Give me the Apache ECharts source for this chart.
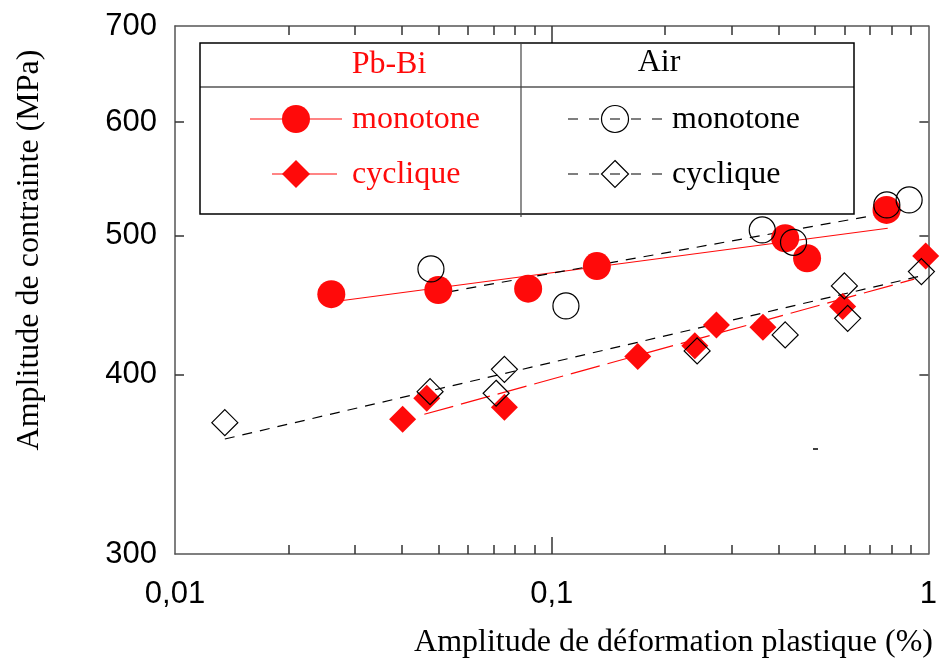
<!DOCTYPE html>
<html><head><meta charset="utf-8">
<script src="https://cdn.jsdelivr.net/npm/echarts@6/dist/echarts.min.js"></script>
<style>html,body{margin:0;padding:0;background:#fff}#c{width:940px;height:663px}</style>
</head><body><div id="c"></div>
<script>
// ---- tick values ----
const xTickLabels = [0.01, 0.1, 1];
const xMinorTicks = [0.02, 0.03, 0.04, 0.05, 0.06, 0.07, 0.08, 0.09, 0.2, 0.3, 0.4, 0.5, 0.6, 0.7, 0.8, 0.9];
const xMajorTicks = [0.1];
const yTickLabels = [300, 400, 500, 600, 700];
const yTicks = [400, 500, 600];

// ---- data: Pb-Bi (red) ----
const pbbiMonoX = [0.0260, 0.0500, 0.0866, 0.1318, 0.4167, 0.4764, 0.7743];
const pbbiMonoY = [455.2, 458.2, 459.2, 476.2, 497.9, 482.2, 521.1];
const pbbiCycX = [0.0402, 0.0466, 0.0749, 0.1692, 0.2399, 0.2738, 0.3637, 0.5923, 0.9838];
const pbbiCycY = [372.4, 385.2, 379.6, 411.8, 419.1, 433.3, 431.7, 446.2, 484.0];
// ---- data: Air (black) ----
const airMonoX = [0.0478, 0.1091, 0.3622, 0.4385, 0.7757, 0.8890];
const airMonoY = [474.0, 446.7, 504.6, 494.7, 525.3, 529.5];
const airCycX = [0.01356, 0.04755, 0.0712, 0.0749, 0.2433, 0.4167, 0.5984, 0.6106, 0.9583];
const airCycY = [370.4, 389.3, 388.3, 403.5, 415.6, 426.4, 461.3, 437.9, 472.0];
// ---- fitted trend lines (end points) ----
const pbbiMonoFitX = [0.0260, 0.780];
const pbbiMonoFitY = [449.5, 506.0];
const pbbiCycFitX = [0.0459, 0.9167];
const pbbiCycFitY = [375.4, 466.3];
const airMonoFitX = [0.0478, 0.8838];
const airMonoFitY = [454.6, 521.7];
const airCycFitX = [0.01356, 0.9583];
const airCycFitY = [360.8, 468.8];

const zip = (xs, ys) => xs.map((x, i) => [x, ys[i]]);
const RED = '#ff0a0a';
const axisLineStyle = {color: '#555', width: 1.5};
const tickStyle = {color: '#333', width: 1.5};

const xBase = {type: 'log', logBase: 10, min: 0.01, max: 1, gridIndex: 0,
  splitLine: {show: false}, minorTick: {show: false}, minorSplitLine: {show: false},
  axisLabel: {show: false}, axisLine: {show: false, onZero: false}, axisTick: {show: false}};
const yBase = {type: 'log', logBase: 10, min: 300, max: 700, gridIndex: 0,
  splitLine: {show: false}, minorTick: {show: false}, minorSplitLine: {show: false},
  axisLabel: {show: false}, axisLine: {show: false, onZero: false}, axisTick: {show: false}};

const fmtX = v => String(+(+v).toPrecision(3)).replace('.', ',');
const fmtY = v => String(Math.round(v));

const chart = echarts.init(document.getElementById('c'), null, {renderer: 'canvas'});
chart.setOption({
  animation: false,
  backgroundColor: '#fff',
  grid: {left: 175, right: 9, top: 26, bottom: 109, containLabel: false},
  xAxis: [
    Object.assign({}, xBase, {position: 'bottom',
      axisLine: {show: true, onZero: false, lineStyle: axisLineStyle},
      axisTick: {show: true, inside: true, length: 9, customValues: xMinorTicks, lineStyle: tickStyle},
      axisLabel: {show: true, customValues: xTickLabels, formatter: fmtX, fontSize: 31,
        fontFamily: 'Liberation Sans', color: '#000', margin: 25, hideOverlap: false}}),
    Object.assign({}, xBase, {position: 'bottom',
      axisTick: {show: true, inside: true, length: 17, customValues: xMajorTicks, lineStyle: tickStyle}}),
    Object.assign({}, xBase, {position: 'top',
      axisLine: {show: true, onZero: false, lineStyle: axisLineStyle},
      axisTick: {show: true, inside: true, length: 9, customValues: xMinorTicks, lineStyle: tickStyle}}),
    Object.assign({}, xBase, {position: 'top',
      axisTick: {show: true, inside: true, length: 17, customValues: xMajorTicks, lineStyle: tickStyle}})
  ],
  yAxis: [
    Object.assign({}, yBase, {position: 'left',
      axisLine: {show: true, onZero: false, lineStyle: axisLineStyle},
      axisTick: {show: true, inside: true, length: 9, customValues: yTicks, lineStyle: tickStyle},
      axisLabel: {show: true, customValues: yTickLabels, formatter: fmtY, fontSize: 31,
        fontFamily: 'Liberation Sans', color: '#000', margin: 18, hideOverlap: false}}),
    Object.assign({}, yBase, {position: 'right',
      axisLine: {show: true, onZero: false, lineStyle: axisLineStyle},
      axisTick: {show: true, inside: true, length: 9, customValues: yTicks, lineStyle: tickStyle}})
  ],
  series: [
    {type: 'line', name: 'fit Pb-Bi monotone', data: zip(pbbiMonoFitX, pbbiMonoFitY), symbol: 'none', silent: true,
      lineStyle: {color: RED, width: 1.2, type: 'solid'}, z: 2},
    {type: 'line', name: 'fit Pb-Bi cyclique', data: zip(pbbiCycFitX, pbbiCycFitY), symbol: 'none', silent: true,
      lineStyle: {color: RED, width: 1.2, type: [30, 8]}, z: 2},
    {type: 'line', name: 'fit Air monotone', data: zip(airMonoFitX, airMonoFitY), symbol: 'none', silent: true,
      lineStyle: {color: '#000', width: 1.2, type: [10, 8]}, z: 2},
    {type: 'line', name: 'fit Air cyclique', data: zip(airCycFitX, airCycFitY), symbol: 'none', silent: true,
      lineStyle: {color: '#000', width: 1.2, type: [10, 8]}, z: 2},
    {type: 'scatter', name: 'Pb-Bi monotone', data: zip(pbbiMonoX, pbbiMonoY), symbol: 'circle', symbolSize: 28,
      itemStyle: {color: RED, opacity: 1}, z: 3},
    {type: 'scatter', name: 'Pb-Bi cyclique', data: zip(pbbiCycX, pbbiCycY), symbol: 'diamond', symbolSize: 27,
      itemStyle: {color: RED, opacity: 1}, z: 3},
    {type: 'scatter', name: 'Air monotone', data: zip(airMonoX, airMonoY), symbol: 'circle', symbolSize: 26,
      itemStyle: {color: 'rgba(0,0,0,0)', borderColor: '#000', borderWidth: 1.2, opacity: 1}, z: 4},
    {type: 'scatter', name: 'Air cyclique', data: zip(airCycX, airCycY), symbol: 'diamond', symbolSize: 26,
      itemStyle: {color: 'rgba(0,0,0,0)', borderColor: '#000', borderWidth: 1.2, opacity: 1}, z: 4}
  ],
  graphic: [
    // axis titles
    {type: 'text', x: 30, y: 250, rotation: Math.PI / 2, z: 10,
      style: {text: 'Amplitude de contrainte (MPa)', fontSize: 32, fontFamily: 'Liberation Serif',
        fill: '#000', align: 'center', verticalAlign: 'middle'}},
    {type: 'text', x: 933, y: 643, z: 10,
      style: {text: 'Amplitude de déformation plastique (%)', fontSize: 32, fontFamily: 'Liberation Serif',
        fill: '#000', align: 'right', verticalAlign: 'middle'}},
    // legend table
    {type: 'rect', shape: {x: 200, y: 43, width: 654, height: 171}, z: 10,
      style: {fill: '#fff', stroke: '#000', lineWidth: 1.5}},
    {type: 'line', shape: {x1: 200, y1: 87, x2: 854, y2: 87}, z: 11, style: {stroke: '#000', lineWidth: 1.2}},
    {type: 'line', shape: {x1: 521, y1: 43, x2: 521, y2: 217}, z: 11, style: {stroke: '#444', lineWidth: 1.2}},
    {type: 'text', x: 389, y: 65, z: 11, style: {text: 'Pb-Bi', fontSize: 32, fontFamily: 'Liberation Serif',
      fill: RED, align: 'center', verticalAlign: 'middle'}},
    {type: 'text', x: 659, y: 63, z: 11, style: {text: 'Air', fontSize: 32, fontFamily: 'Liberation Serif',
      fill: '#000', align: 'center', verticalAlign: 'middle'}},
    // red entries
    {type: 'line', shape: {x1: 250, y1: 119, x2: 342, y2: 119}, z: 11, style: {stroke: RED, lineWidth: 1.2}},
    {type: 'circle', shape: {cx: 296, cy: 119, r: 14}, z: 12, style: {fill: RED}},
    {type: 'text', x: 352, y: 120, z: 11, style: {text: 'monotone', fontSize: 32, fontFamily: 'Liberation Serif',
      fill: RED, align: 'left', verticalAlign: 'middle'}},
    {type: 'line', shape: {x1: 272, y1: 174, x2: 337, y2: 174}, z: 11, style: {stroke: RED, lineWidth: 1.2}},
    {type: 'polygon', shape: {points: [[296, 160], [310, 174], [296, 188], [282, 174]]}, z: 12, style: {fill: RED}},
    {type: 'text', x: 352, y: 175, z: 11, style: {text: 'cyclique', fontSize: 32, fontFamily: 'Liberation Serif',
      fill: RED, align: 'left', verticalAlign: 'middle'}},
    // black entries
    {type: 'line', shape: {x1: 568, y1: 119, x2: 662, y2: 119}, z: 11,
      style: {stroke: '#000', lineWidth: 1.2, lineDash: [10, 11]}},
    {type: 'circle', shape: {cx: 615, cy: 119, r: 13.5}, z: 12, style: {fill: null, stroke: '#000', lineWidth: 1.2}},
    {type: 'text', x: 672, y: 120, z: 11, style: {text: 'monotone', fontSize: 32, fontFamily: 'Liberation Serif',
      fill: '#000', align: 'left', verticalAlign: 'middle'}},
    {type: 'line', shape: {x1: 568, y1: 174, x2: 662, y2: 174}, z: 11,
      style: {stroke: '#000', lineWidth: 1.2, lineDash: [10, 11]}},
    {type: 'polygon', shape: {points: [[615, 160.5], [628.5, 174], [615, 187.5], [601.5, 174]]}, z: 12,
      style: {fill: null, stroke: '#000', lineWidth: 1.2}},
    {type: 'text', x: 672, y: 175, z: 11, style: {text: 'cyclique', fontSize: 32, fontFamily: 'Liberation Serif',
      fill: '#000', align: 'left', verticalAlign: 'middle'}},
    // small stray mark in the original plot
    {type: 'line', shape: {x1: 813, y1: 449, x2: 818, y2: 449}, z: 11, style: {stroke: '#000', lineWidth: 1.5}}
  ]
});
</script>
</body></html>
